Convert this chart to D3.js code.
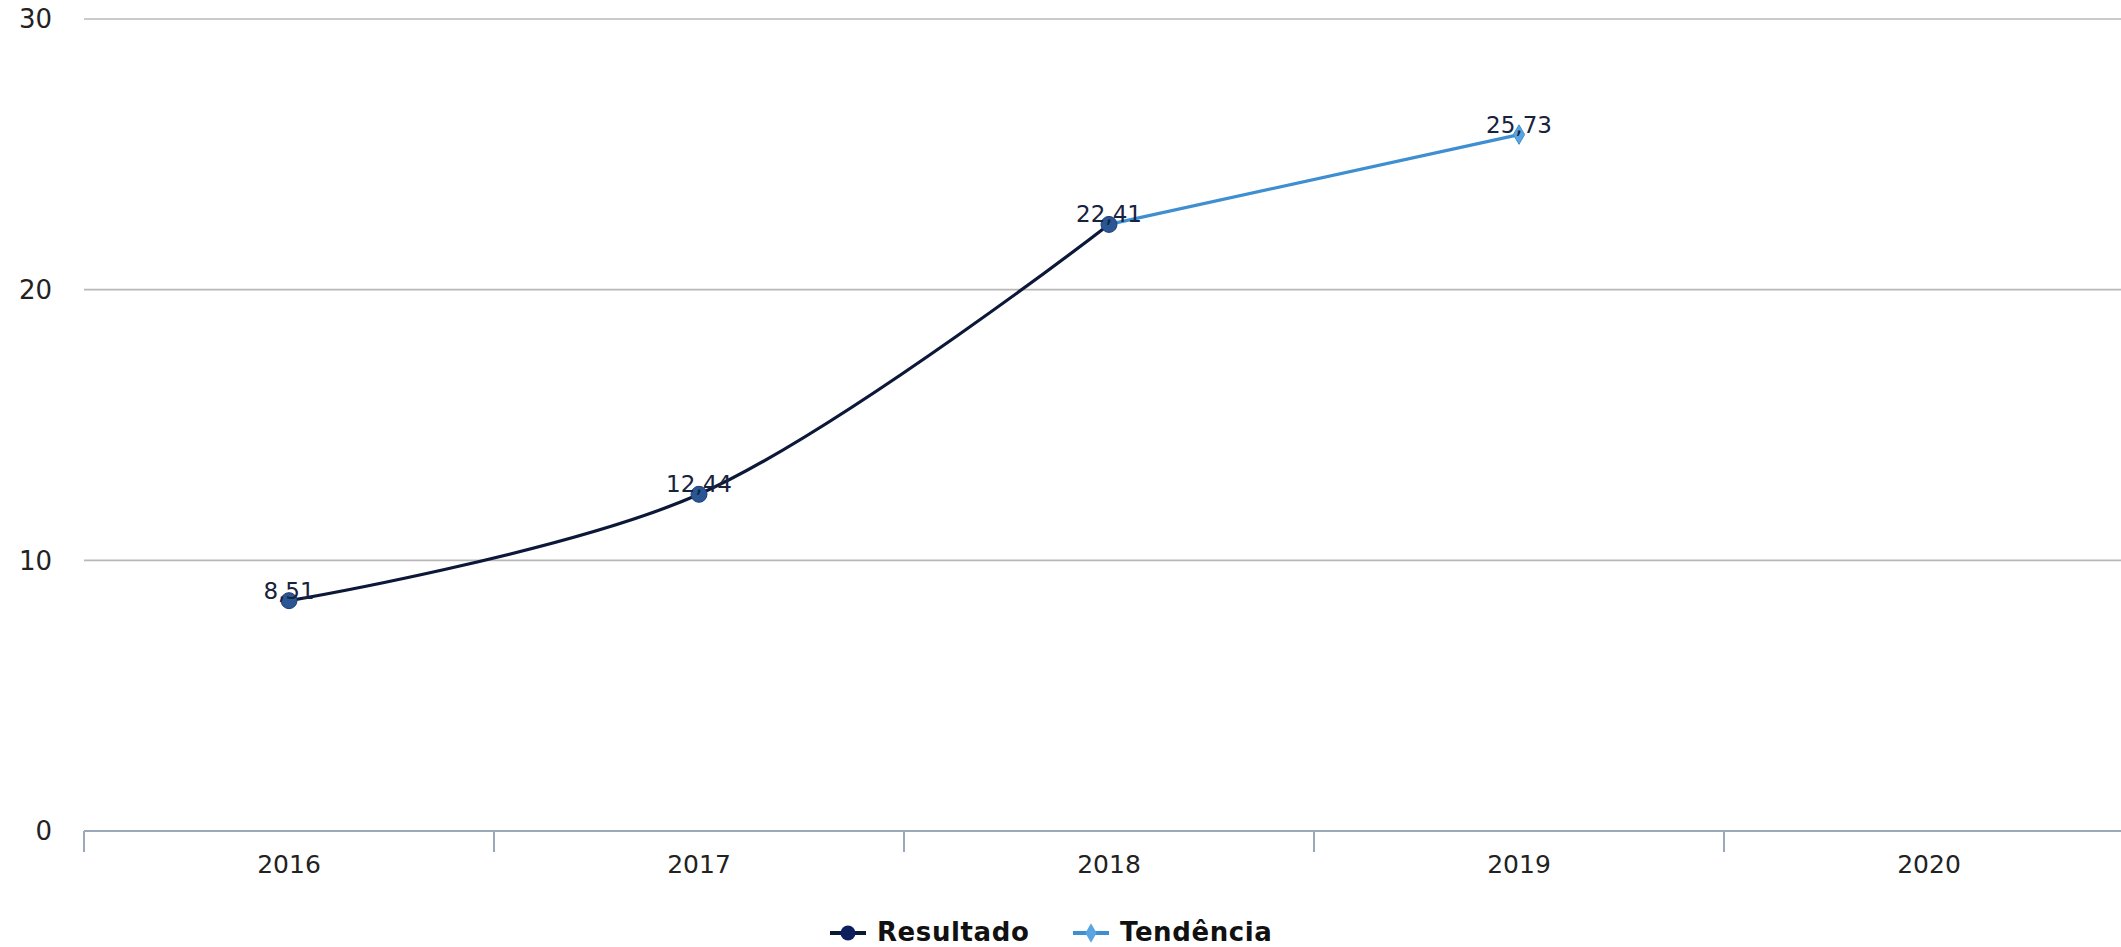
<!DOCTYPE html>
<html><head><meta charset="utf-8">
<script src="https://cdn.jsdelivr.net/npm/d3@7"></script>
<style>body{margin:0;background:#fff;overflow:hidden}svg{display:block}</style>
</head><body>
<svg id="c" width="2121" height="947"></svg>
<script>
const categories = ["2016","2017","2018","2019","2020"];
const resultadoYears = ["2016","2017","2018"];
const resultadoValues = [8.51, 12.44, 22.41];
const tendenciaYears = ["2018","2019"];
const tendenciaValues = [22.41, 25.73];
const yTicks = [0, 10, 20, 30];

const svg = d3.select("#c");
const font = "'DejaVu Sans', Verdana, sans-serif";
const x = d3.scaleBand().domain(categories).range([84, 2134]).padding(0);
const y = d3.scaleLinear().domain([0, 30]).range([831, 19]);

// gridlines
svg.append("g").selectAll("line").data(yTicks.filter(d => d > 0)).join("line")
  .attr("x1", 84).attr("x2", 2121)
  .attr("y1", d => y(d)).attr("y2", d => y(d))
  .attr("stroke", "#b8b8b8").attr("stroke-width", 1.6);

// y labels
svg.append("g").selectAll("text").data(yTicks).join("text")
  .attr("x", 52).attr("y", d => y(d)).attr("dy", "0.36em")
  .attr("text-anchor", "end").attr("font-family", font).attr("font-size", 26)
  .attr("fill", "#222").text(d => d);

// x axis
const xAxis = svg.append("g");
xAxis.append("line").attr("x1", 84).attr("x2", 2121).attr("y1", y(0)).attr("y2", y(0))
  .attr("stroke", "#9aa8ba").attr("stroke-width", 2);
const bounds = categories.map(c => x(c)).concat([x.range()[1]]);
xAxis.selectAll("line.tk").data(bounds).join("line").attr("class","tk")
  .attr("x1", d => d).attr("x2", d => d).attr("y1", y(0)).attr("y2", y(0) + 21)
  .attr("stroke", "#9aa8ba").attr("stroke-width", 2);
xAxis.selectAll("text").data(categories).join("text")
  .attr("x", d => x(d) + x.bandwidth() / 2).attr("y", 873)
  .attr("text-anchor", "middle").attr("font-family", font).attr("font-size", 25)
  .attr("fill", "#222").text(d => d);

const cx = d => x(d) + x.bandwidth() / 2;

// Tendência line
const tData = tendenciaYears.map((c, i) => ({c, v: tendenciaValues[i]}));
svg.append("path").datum(tData)
  .attr("d", d3.line().x(d => cx(d.c)).y(d => y(d.v)))
  .attr("fill", "none").attr("stroke", "#3d8fd1").attr("stroke-width", 3.2);

// Resultado line
const rData = resultadoYears.map((c, i) => ({c, v: resultadoValues[i]}));
svg.append("path").datum(rData)
  .attr("d", d3.line().curve(d3.curveCatmullRom.alpha(0.5)).x(d => cx(d.c)).y(d => y(d.v)))
  .attr("fill", "none").attr("stroke", "#0c1838").attr("stroke-width", 3.2);

// markers
const diamond = d3.symbol().type(d3.symbolDiamond).size(110);
svg.append("g").selectAll("path").data(tData.slice(1)).join("path")
  .attr("transform", d => `translate(${cx(d.c)},${y(d.v)})`)
  .attr("d", diamond).attr("fill", "#5aa5e0").attr("stroke", "#3d8fd1").attr("stroke-width", 1);
svg.append("g").selectAll("circle").data(rData).join("circle")
  .attr("cx", d => cx(d.c)).attr("cy", d => y(d.v)).attr("r", 8)
  .attr("fill", "#2a5693").attr("stroke", "#1c3f75").attr("stroke-width", 1);

// labels
const fmt = v => v.toFixed(2).replace(".", ",");
const labelData = rData.concat(tData.slice(1));
svg.append("g").selectAll("text").data(labelData).join("text")
  .attr("x", d => cx(d.c)).attr("y", d => y(d.v) - 2)
  .attr("text-anchor", "middle").attr("font-family", font).attr("font-size", 23)
  .attr("fill", "#17223d").text(d => fmt(d.v));

// legend
const legend = [
  {name: "Resultado", color: "#0c1838", fill: "#0d1f5c", shape: "circle", x: 830},
  {name: "Tendência", color: "#3d8fd1", fill: "#5aa5e0", shape: "diamond", x: 1073}
];
const lg = svg.append("g").selectAll("g").data(legend).join("g")
  .attr("transform", d => `translate(${d.x},933)`);
lg.append("line").attr("x1", 0).attr("x2", 36).attr("stroke", d => d.color).attr("stroke-width", 4);
lg.filter(d => d.shape === "circle").append("circle").attr("cx", 18).attr("r", 7.5).attr("fill", d => d.fill);
lg.filter(d => d.shape === "diamond").append("path").attr("transform", "translate(18,0)")
  .attr("d", diamond).attr("fill", d => d.fill);
lg.append("text").attr("x", 47).attr("y", 8).attr("font-family", font).attr("font-weight", "bold")
  .attr("font-size", 26).attr("letter-spacing", 0.6).attr("fill", "#111").text(d => d.name);
</script>
</body></html>
